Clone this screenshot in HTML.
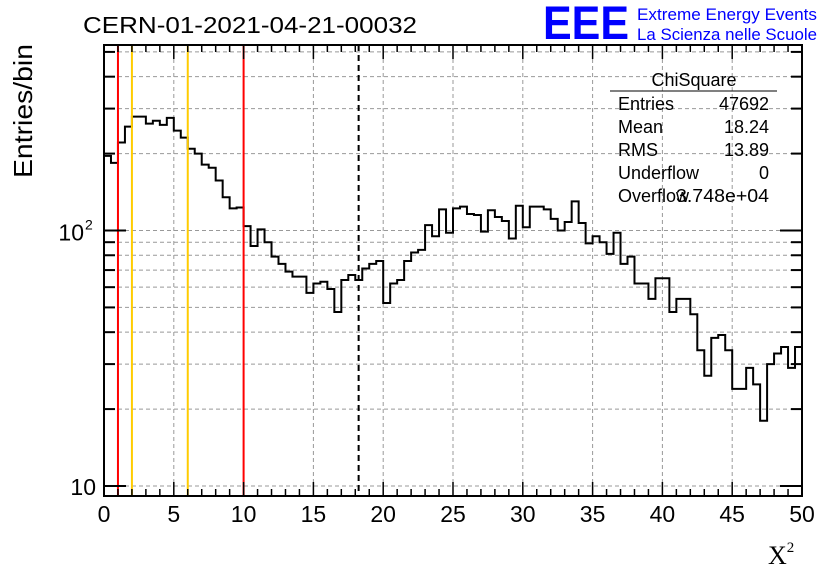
<!DOCTYPE html>
<html><head><meta charset="utf-8"><style>
body{margin:0;background:#fff;width:836px;height:572px;overflow:hidden}
svg{font-family:"Liberation Sans",sans-serif}
</style></head><body>
<svg id="c" width="836" height="572">
<text x="83" y="33" font-size="23" textLength="334" lengthAdjust="spacingAndGlyphs">CERN-01-2021-04-21-00032</text>
<text x="543" y="39" font-size="47" fill="#0000ff" font-weight="bold" textLength="86" lengthAdjust="spacingAndGlyphs">EEE</text>
<text x="637" y="20" font-size="17" fill="#0000ff" textLength="180" lengthAdjust="spacingAndGlyphs">Extreme Energy Events</text>
<text x="637" y="40" font-size="17" fill="#0000ff" textLength="180" lengthAdjust="spacingAndGlyphs">La Scienza nelle Scuole</text>
<text transform="translate(32,111) rotate(-90)" text-anchor="middle" font-size="26" textLength="134" lengthAdjust="spacingAndGlyphs">Entries/bin</text>
<text x="768" y="564" font-size="26" font-family="Liberation Serif,serif">X<tspan font-size="15" dy="-12">2</tspan></text>
<g id="grid"></g><g id="hist"></g><g id="marks"></g><g id="axes"></g>
<g font-size="18">
<text x="694" y="86" text-anchor="middle">ChiSquare</text>
<line x1="610" y1="91" x2="777" y2="91" stroke="#000" stroke-width="1"/>
<text x="618" y="110">Entries</text><text x="769" y="110" text-anchor="end">47692</text>
<text x="618" y="133">Mean</text><text x="769" y="133" text-anchor="end">18.24</text>
<text x="618" y="156">RMS</text><text x="769" y="156" text-anchor="end">13.89</text>
<text x="618" y="179">Underflow</text><text x="769" y="179" text-anchor="end">0</text>
<text x="618" y="202">Overflow</text><text x="676" y="202" textLength="93" lengthAdjust="spacingAndGlyphs">3.748e+04</text>
</g>
</svg>
<script>
const counts=[196,184,221,255,279,279,262,269,259,276,246,231,209,200,181,176,157,135,122,123,104,87,101,90,79,74,69,66,66,57,62,63,59,48,
64,67,64,71,74,76,52,62,64,76,82,84,105,95,121,98,122,124,116,115,99,120,113,109,93,125,103,124,124,121,111,100,108,130,107,89,
95,90,81,98,74,79,62,62,54,65,65,48,54,54,47,34,27,38,39,34,24,24,29,25,18,30,33,35,29,35];
const xMin=0,xMax=50,binW=0.5;
const xTicks=[0,5,10,15,20,25,30,35,40,45,50];
const yMajor=[10,100];
const yMinor=[20,30,40,50,60,70,80,90,200,300,400,500];
const redLines=[1,10];
const yellowLines=[2,6];
const meanLine=[18.24];
const L=104,R=802,T=45,B=496;
const X=v=>L+(v-xMin)/(xMax-xMin)*(R-L);
const Y=v=>486-(Math.log10(v)-1)*255.5;
const NS='http://www.w3.org/2000/svg';
function mk(p,t,a){const e=document.createElementNS(NS,t);for(const k in a)e.setAttribute(k,a[k]);document.getElementById(p).appendChild(e);return e;}
xTicks.slice(1,-1).forEach(v=>{const e=mk('grid','line',{x1:X(v),x2:X(v),y1:T,y2:B,stroke:'#999','stroke-dasharray':'4,3'});

});
yMajor.concat(yMinor).forEach(v=>{const e=mk('grid','line',{x1:L,x2:R,y1:Y(v),y2:Y(v),stroke:'#999','stroke-dasharray':'4,3'});

});
let d='M'+X(0)+','+Y(counts[0]);
counts.forEach((c,i)=>{d+=' L'+X(i*binW)+','+Y(c)+' L'+X((i+1)*binW)+','+Y(c);});
const h=mk('hist','path',{d:d,fill:'none',stroke:'#000','stroke-width':2});


redLines.forEach(v=>{const e=mk('marks','line',{x1:X(v),x2:X(v),y1:T,y2:B,stroke:'#ff0000','stroke-width':2});

});
yellowLines.forEach(v=>{const e=mk('marks','line',{x1:X(v),x2:X(v),y1:T,y2:B,stroke:'#ffcc00','stroke-width':2});

});
meanLine.forEach(v=>{const e=mk('marks','line',{x1:X(v),x2:X(v),y1:T,y2:B,stroke:'#000','stroke-width':2,'stroke-dasharray':'6,4'});

});
const f=mk('axes','rect',{x:L,y:T,width:R-L,height:B-T,fill:'none',stroke:'#000','stroke-width':2});


for(let v=xMin;v<=xMax;v++){const big=v%5===0,len=big?14:7;
mk('axes','line',{x1:X(v),x2:X(v),y1:B,y2:B-len,stroke:'#000','stroke-width':1.5});
mk('axes','line',{x1:X(v),x2:X(v),y1:T,y2:T+len,stroke:'#000','stroke-width':1.5});}
xTicks.forEach(v=>{const t=mk('axes','text',{x:X(v),y:522,'text-anchor':'middle','font-size':23});t.textContent=v;

});
yMajor.forEach(v=>{mk('axes','line',{x1:L,x2:L+22,y1:Y(v),y2:Y(v),stroke:'#000','stroke-width':2});
mk('axes','line',{x1:R,x2:R-22,y1:Y(v),y2:Y(v),stroke:'#000','stroke-width':2});});
yMinor.forEach(v=>{mk('axes','line',{x1:L,x2:L+11,y1:Y(v),y2:Y(v),stroke:'#000','stroke-width':2});
mk('axes','line',{x1:R,x2:R-11,y1:Y(v),y2:Y(v),stroke:'#000','stroke-width':2});});
const y1=mk('axes','text',{x:96,y:Y(10)+9,'text-anchor':'end','font-size':23});y1.textContent='10';


const y2=mk('axes','text',{x:84,y:Y(100)+10,'text-anchor':'end','font-size':23});y2.textContent='10';


const s=mk('axes','text',{x:85,y:Y(100)-1,'font-size':14});s.textContent='2';
</script>
</body></html>
